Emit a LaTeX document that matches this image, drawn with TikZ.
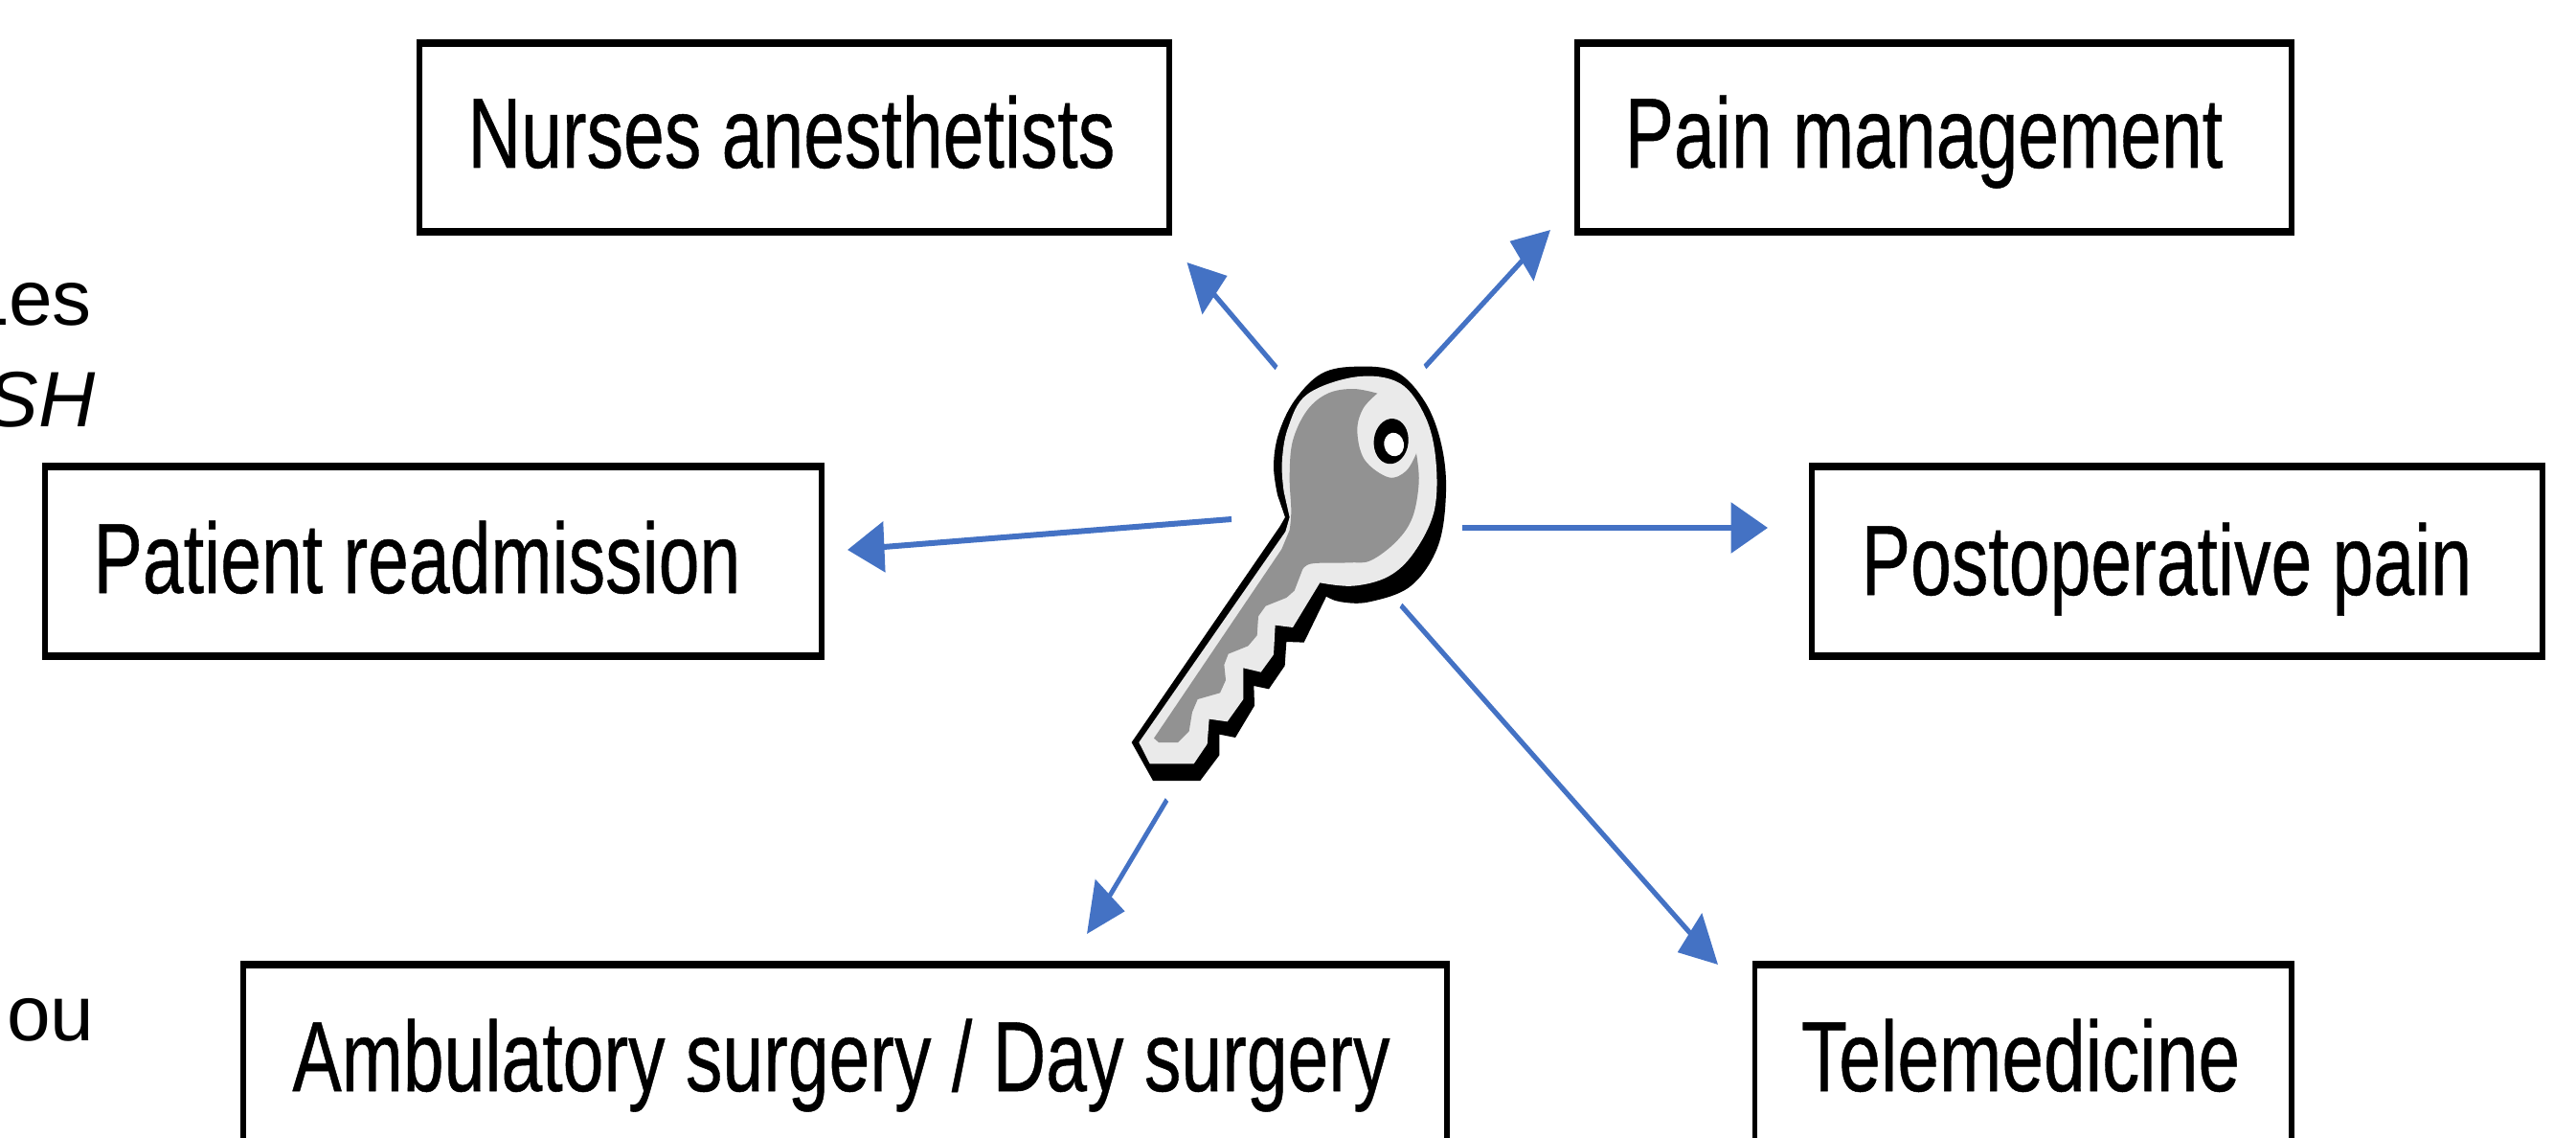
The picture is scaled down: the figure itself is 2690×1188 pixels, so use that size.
\documentclass[tikz,border=0pt]{standalone}
\usepackage{graphicx}
\usepackage{fontspec}
\setmainfont{Liberation Sans}
\newfontfamily\boxfont[FakeBold=0.5]{Liberation Sans}
\usetikzlibrary{arrows.meta}
\definecolor{arrowblue}{HTML}{4472C4}
\definecolor{keylight}{HTML}{EAEAEA}
\definecolor{keydark}{HTML}{929292}
\tikzset{
  boxn/.style={draw=black,line width=8pt,fill=white,inner sep=0pt,font=\boxfont\fontsize{104}{110}\selectfont},
  sidetext/.style={inner sep=0pt,font=\fontsize{82}{90}\selectfont,text=black},
  link/.style={draw=arrowblue,line width=6pt,-{Triangle[length=52pt,width=52pt,fill=arrowblue]}},
  squeezed/.style={x=1.35135pt,transform canvas={xscale=0.74}}
}
\newcommand\labelbox[8]{%
  \pgfmathsetmacro\bw{(#4-#2-5.9)/0.74}\pgfmathsetmacro\bh{#5-#3-8}%
  \pgfmathsetmacro\bcx{(#2+#4)/2}\pgfmathsetmacro\bcy{(#3+#5)/2}%
  \pgfmathsetmacro\bdx{2*(#6-\bcx)/0.74}\pgfmathsetmacro\bdy{\bcy-#7}%
  \node[boxn,minimum width=\bw pt,minimum height=\bh pt] (#1) at (\bcx,\bcy)
    {\raisebox{\bdy pt}[0pt][0pt]{\makebox[0pt]{\hspace*{\bdx pt}#8}}};%
}
\begin{document}
\begin{tikzpicture}[x=1pt,y=-1pt]
\useasboundingbox (0,0) rectangle (2690,1188);
\clip (0,0) rectangle (2690,1188);
\fill[white] (0,0) rectangle (2690,1188);

% clipped side texts
\node[sidetext,anchor=base east] (les) at (96,339) {Les};
\node[sidetext,anchor=base east] (sh) at (100,445) {\itshape SH};
\node[sidetext,anchor=base west] (ou) at (7,1086) {ou};

% key
\begin{scope}[shift={(1130,340)},scale=1/3]
  \fill[black] (155,1305) -- (620,628) -- (636,600)
    -- plot[smooth,tension=.6] coordinates {(612,530) (600,440) (615,340) (665,235) (750,150) (860,128) (985,145) (1075,240) (1125,370) (1140,520) (1115,690) (1030,815) (900,865) (810,865) (765,848)}
    -- (695,992) -- (640,990) -- (635,1065) -- (585,1138) -- (538,1128) -- (540,1190) -- (480,1290) -- (430,1280) -- (430,1345) -- (370,1425) -- (222,1425) -- cycle;
  \fill[keylight] (178,1305) -- (637,645) -- (650,600)
    -- plot[smooth,tension=.6] coordinates {(632,520) (626,430) (645,320) (705,215) (860,160) (995,180) (1075,285) (1108,420) (1103,580) (1040,710) (960,785) (850,815) (745,805)}
    -- (660,945) -- (605,938) -- (600,1030) -- (560,1085) -- (505,1072) -- (505,1170) -- (455,1240) -- (398,1232) -- (392,1310) -- (350,1372) -- (212,1372) -- cycle;
  \fill[keydark] (225,1292) -- (625,700)
    -- plot[smooth,tension=.6] coordinates {(650,640) (655,580) (650,470) (660,360) (705,265) (770,212) (850,198) (925,212)}
    -- plot[smooth,tension=.6] coordinates {(925,212) (880,260) (862,330) (885,420) (960,475) (1015,455) (1047,400)}
    -- plot[smooth,tension=.6] coordinates {(1047,400) (1055,490) (1035,600) (985,675) (905,735) (840,742) (720,745) (690,765)}
    -- (665,830) -- (640,852) -- (575,878) -- (552,910) -- (548,970) -- (520,1003) -- (458,1028) -- (445,1062) -- (450,1110) -- (432,1150) -- (362,1170) -- (345,1210) -- (335,1270) -- (300,1305) -- (240,1305) -- cycle;
  \fill[black,rotate around={-6:(968,362)}] (968,362) ellipse [x radius=54,y radius=71];
  \fill[white,rotate around={10:(977,372)}] (977,372) ellipse [x radius=31,y radius=37];
\end{scope}

\begin{scope}[squeezed]
% boxes
\labelbox{nurses}{435}{41}{1223.5}{246}{826.5}{175}{Nurses anesthetists}
\labelbox{pain}{1644}{41}{2396}{246}{2009}{175}{Pain management}
\labelbox{readm}{44}{483}{860.5}{689}{435.5}{619}{Patient readmission}
\labelbox{postop}{1889}{483}{2658}{689}{2262.5}{621}{Postoperative pain}
\labelbox{amb}{251.5}{1003}{1513.5}{1208}{878.5}{1139}{Ambulatory surgery / Day surgery}
\labelbox{tele}{1829.5}{1003}{2396}{1208}{2110}{1139}{\scalebox{1.02}[1]{Telemedicine}}

% connector ends
\coordinate (s1) at (1333,384); \coordinate (e1) at (1239.5,274);
\coordinate (s2) at (1488,383); \coordinate (e2) at (1619,240);
\coordinate (s3) at (1527,551); \coordinate (e3) at (1846,551);
\coordinate (s4) at (1286,542); \coordinate (e4) at (885,574);
\coordinate (s5) at (1218.5,835); \coordinate (e5) at (1135,975);
\coordinate (s6) at (1463,632); \coordinate (e6) at (1794,1007);
\draw[link] (s1) -- (e1);
\draw[link] (s2) -- (e2);
\draw[link] (s3) -- (e3);
\draw[link] (s4) -- (e4);
\draw[link] (s5) -- (e5);
\draw[link] (s6) -- (e6);
\end{scope}
\end{tikzpicture}
\end{document}
